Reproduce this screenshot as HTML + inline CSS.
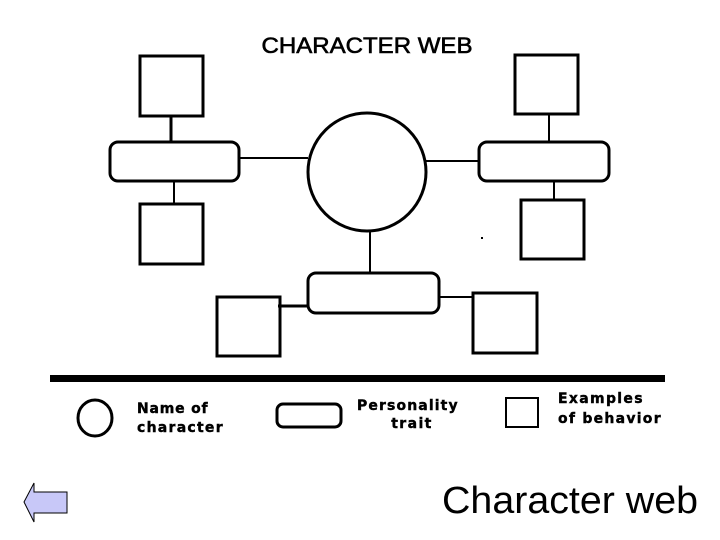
<!DOCTYPE html>
<html><head><style>
html,body{margin:0;padding:0;background:#fff;}
svg{display:block;}
.l{font-family:"DejaVu Sans","Liberation Sans",sans-serif;font-weight:bold;font-size:14px;letter-spacing:1.4px;fill:#000;stroke:#000;stroke-width:0.4px;}
</style></head><body>
<svg width="720" height="540" viewBox="0 0 720 540" xmlns="http://www.w3.org/2000/svg">
<rect width="720" height="540" fill="#fff"/>
<text x="367" y="53" text-anchor="middle" font-family="Liberation Sans, sans-serif" font-size="22" stroke="#000" stroke-width="0.6" textLength="211" lengthAdjust="spacingAndGlyphs">CHARACTER WEB</text>
<g fill="none" stroke="#000" stroke-width="3">
<rect x="140" y="56" width="63" height="60"/>
<rect x="140" y="204" width="63" height="60"/>
<rect x="515" y="55" width="63" height="59"/>
<rect x="521" y="200" width="63" height="59"/>
<rect x="217" y="297" width="63" height="59"/>
<rect x="473" y="293" width="64" height="60"/>
<rect x="110" y="142" width="129" height="39" rx="8"/>
<rect x="479" y="142" width="130" height="39" rx="8"/>
<rect x="308" y="273" width="131" height="40" rx="8"/>
<circle cx="367" cy="172" r="59"/>
</g>
<g stroke="#000" stroke-width="2">
<line x1="171" y1="116" x2="171" y2="142" stroke-width="3"/>
<line x1="174" y1="181" x2="174" y2="204"/>
<line x1="239" y1="158" x2="308" y2="158"/>
<line x1="426" y1="161" x2="479" y2="161"/>
<line x1="549" y1="114" x2="549" y2="142"/>
<line x1="554" y1="181" x2="554" y2="200"/>
<line x1="370" y1="231" x2="370" y2="273"/>
<line x1="278" y1="306" x2="308" y2="306" stroke-width="3"/>
<line x1="439" y1="297" x2="473" y2="297"/>
</g>
<rect x="481" y="237" width="2" height="2" fill="#000"/>
<rect x="50" y="375" width="615" height="7" fill="#000"/>
<ellipse cx="95" cy="418" rx="17" ry="18" fill="none" stroke="#000" stroke-width="3"/>
<rect x="277" y="404" width="64" height="23" rx="6" fill="none" stroke="#000" stroke-width="3"/>
<rect x="506" y="398" width="32" height="29" fill="none" stroke="#000" stroke-width="2"/>
<text class="l" x="137" y="413" textLength="72">Name of</text>
<text class="l" x="137" y="432" textLength="87">character</text>
<text class="l" x="408" y="410" text-anchor="middle" textLength="102">Personality</text>
<text class="l" x="412" y="428" text-anchor="middle">trait</text>
<text class="l" x="558" y="403" textLength="86">Examples</text>
<text class="l" x="558" y="423" textLength="104">of behavior</text>
<polygon points="24,502 34,483 34,492 67,492 67,513 34,513 34,522" fill="#c8c8f8" stroke="#000" stroke-width="1"/>
<text x="570" y="513" text-anchor="middle" font-family="Liberation Sans, sans-serif" font-size="38" textLength="256" lengthAdjust="spacingAndGlyphs">Character web</text>
</svg>
</body></html>
